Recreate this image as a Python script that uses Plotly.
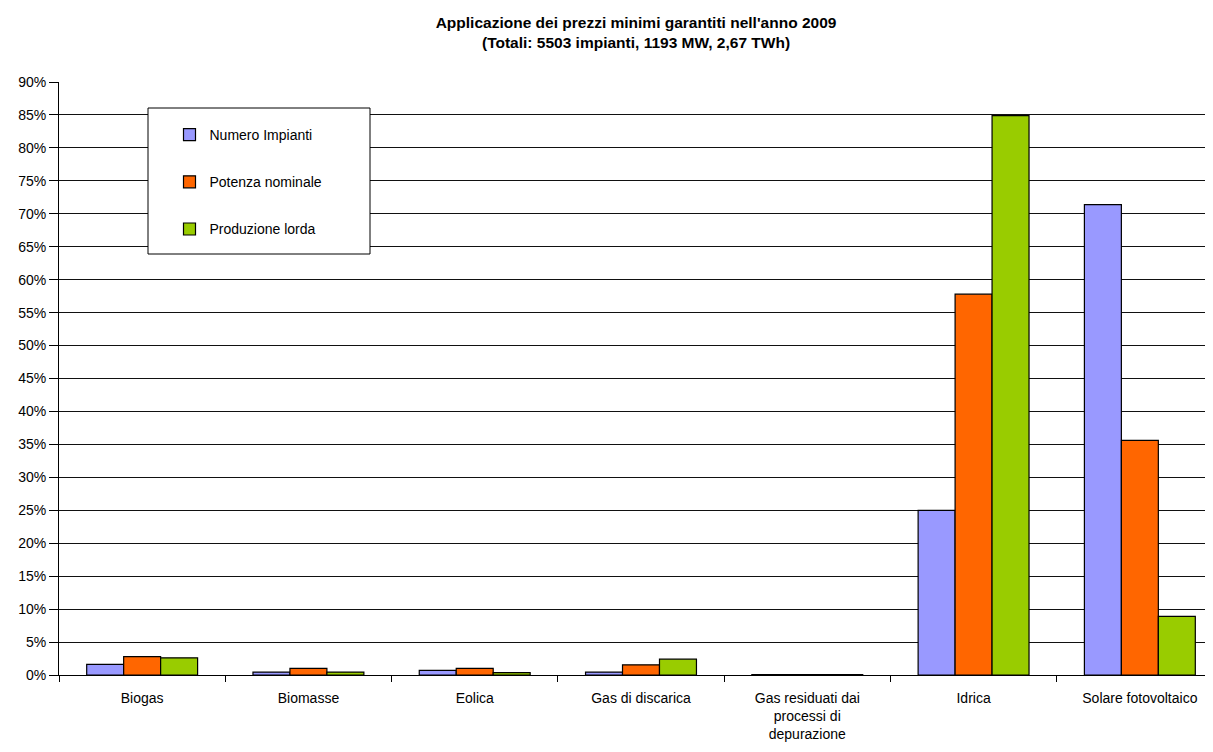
import plotly.graph_objects as go

categories = ["Biogas", "Biomasse", "Eolica", "Gas di discarica",
              "Gas residuati dai<br>processi di<br>depurazione", "Idrica", "Solare fotovoltaico"]
numero_impianti = [1.6, 0.45, 0.7, 0.45, 0.05, 25.0, 71.4]
potenza_nominale = [2.8, 1.0, 1.0, 1.55, 0.05, 57.8, 35.6]
produzione_lorda = [2.6, 0.45, 0.35, 2.4, 0.05, 84.9, 8.9]
series_names = ["Numero Impianti", "Potenza nominale", "Produzione lorda"]
colors = ["#9999FF", "#FF6600", "#99CC00"]
y_ticks = list(range(0, 95, 5))

fig = go.Figure()
for name, vals, col in zip(series_names, [numero_impianti, potenza_nominale, produzione_lorda], colors):
    fig.add_trace(go.Bar(x=categories, y=vals, name=name, legendgroup=name,
                         marker=dict(color=col, line=dict(color="black", width=1.2))))

PW = 1164.0
PL = 59.0
font_family = "Liberation Sans, Arial, sans-serif"
fig.update_layout(
    width=1215, height=752,
    paper_bgcolor="white", plot_bgcolor="white",
    margin=dict(l=51, r=0, t=74, b=85),
    font=dict(family=font_family, size=14, color="black"),
    title=dict(text="<b>Applicazione dei prezzi minimi garantiti nell'anno 2009<br>(Totali: 5503 impianti, 1193 MW, 2,67 TWh)</b>",
               x=0.5169, xanchor="center", y=0.974, yanchor="top",
               font=dict(size=15.5, family=font_family)),
    barmode="group", bargap=0.333, bargroupgap=0,
    showlegend=True,
    legend=dict(x=(169.5 - PL) / PW, y=0.9376, xanchor="left", yanchor="top",
                bgcolor="rgba(0,0,0,0)", borderwidth=0,
                tracegroupgap=26, font=dict(size=14, family=font_family),
                traceorder="grouped"),
    shapes=[dict(type="rect", xref="paper", yref="paper",
                 x0=(148 - PL) / PW, x1=(370 - PL) / PW,
                 y0=(675 - 254) / 593, y1=(675 - 108) / 593,
                 line=dict(color="black", width=1), fillcolor="white", layer="above")],
)
fig.update_yaxes(range=[0, 90], tickvals=y_ticks, ticktext=[f"{v}%" for v in y_ticks],
                 showgrid=True, gridcolor="#111111", gridwidth=0.8,
                 showline=True, linecolor="black", linewidth=1,
                 ticks="outside", ticklen=9, tickcolor="black", zeroline=False)
fig.update_xaxes(showline=True, linecolor="black", linewidth=1,
                 ticks="outside", tickson="boundaries", ticklen=6, tickcolor="black",
                 showgrid=False, ticklabelstandoff=10)
fig.write_html("out.html")
